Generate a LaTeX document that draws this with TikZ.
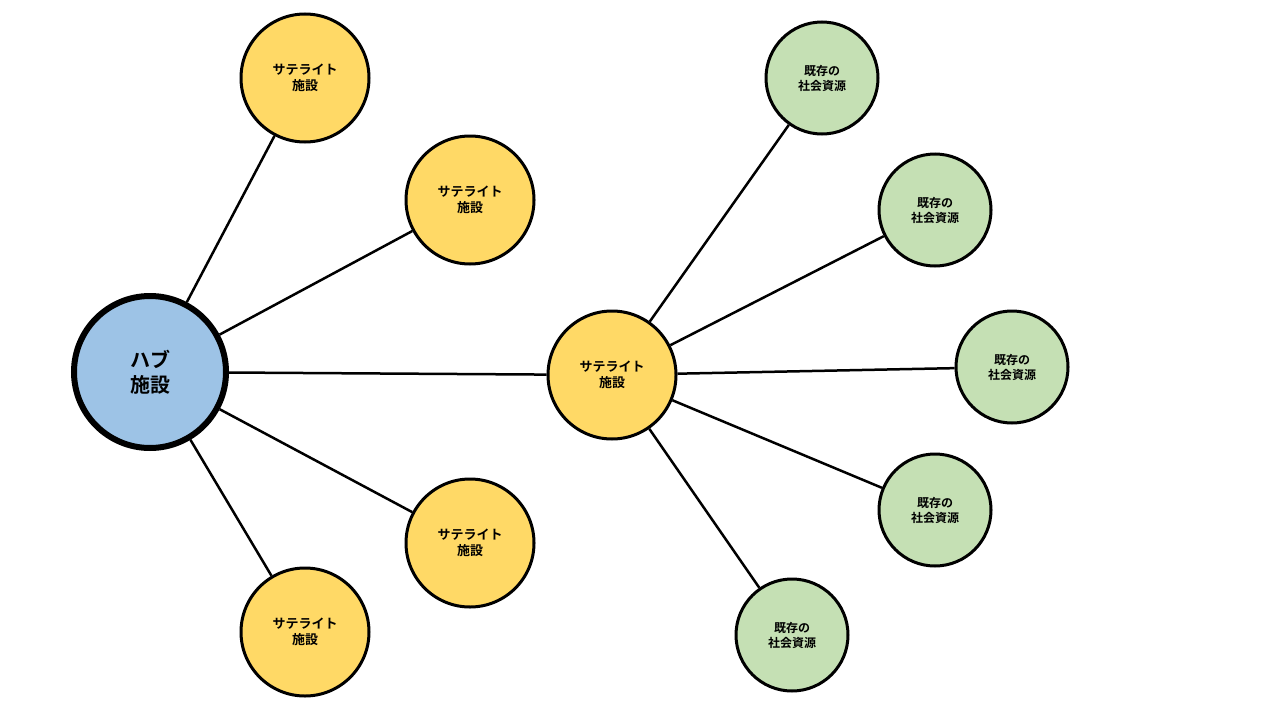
\documentclass[tikz,border=0pt]{standalone}
\usepackage{fontspec}
\newfontfamily\cjk{Noto Sans CJK JP}[BoldFont={Noto Sans CJK JP Bold}]
\begin{document}
\begin{tikzpicture}[x=1pt,y=-1pt,
  sat/.style={circle,draw,line width=3pt,fill=yfill,minimum size=128pt,inner sep=0pt,align=center,font=\cjk\bfseries\fontsize{13}{16}\selectfont},
  res/.style={circle,draw,line width=3pt,fill=gfill,minimum size=112pt,inner sep=0pt,align=center,font=\cjk\bfseries\fontsize{12}{15}\selectfont},
  hub/.style={circle,draw,line width=6pt,fill=bfill,minimum size=152pt,inner sep=0pt,align=center,font=\cjk\bfseries\fontsize{20}{25}\selectfont},
  link/.style={line width=2.5pt}]
\definecolor{yfill}{HTML}{FFD966}
\definecolor{gfill}{HTML}{C5E0B4}
\definecolor{bfill}{HTML}{9DC3E6}
\useasboundingbox (0,0) rectangle (1280,720);
\node[hub] (h) at (150,372) {ハブ\\施設};
\node[sat] (s1) at (305,78) {サテライト\\施設};
\node[sat] (s2) at (470,200) {サテライト\\施設};
\node[sat] (s3) at (470,543) {サテライト\\施設};
\node[sat] (s4) at (305,632) {サテライト\\施設};
\node[sat] (c) at (612,375) {サテライト\\施設};
\node[res] (r1) at (822,78) {既存の\\社会資源};
\node[res] (r2) at (935,210) {既存の\\社会資源};
\node[res] (r3) at (1012,367) {既存の\\社会資源};
\node[res] (r4) at (935,510) {既存の\\社会資源};
\node[res] (r5) at (792,635) {既存の\\社会資源};
\begin{scope}[on background layer/.try]
\end{scope}
\foreach \n in {s1,s2,s3,s4,c} \draw[link] (h) -- (\n);
\foreach \n in {r1,r2,r3,r4,r5} \draw[link] (c) -- (\n);
\end{tikzpicture}
\end{document}
